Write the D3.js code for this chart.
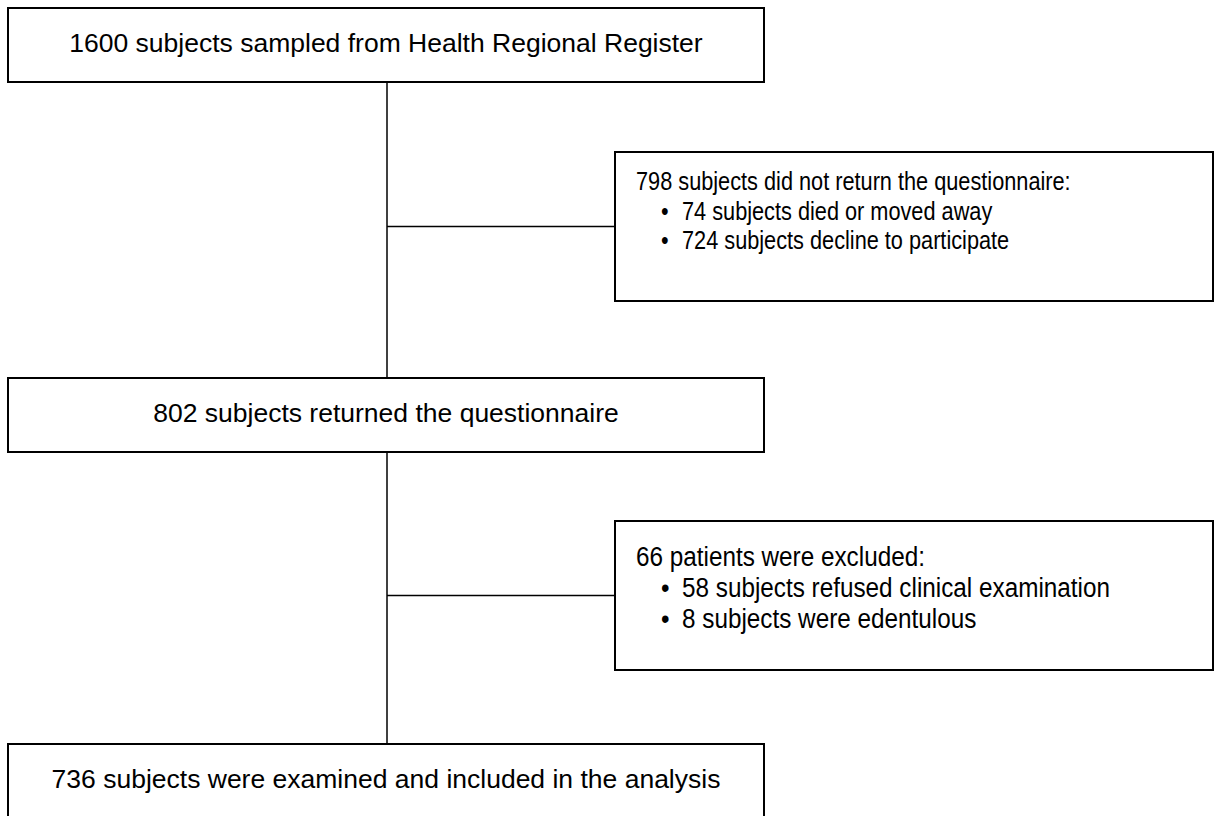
<!DOCTYPE html>
<html>
<head>
<meta charset="utf-8">
<script src="https://cdn.jsdelivr.net/npm/d3@7"></script>
<style>
  html, body { margin: 0; padding: 0; background: #fff; }
  svg { display: block; }
  text { font-family: "Liberation Sans", Arial, Helvetica, sans-serif; fill: #000; }
</style>
</head>
<body>
<svg id="chart" width="1215" height="816"></svg>
<script>
// ---- data ----
const mainCounts = [1600, 802, 736];
const mainLabels = [
  "subjects sampled from Health Regional Register",
  "subjects returned the questionnaire",
  "subjects were examined and included in the analysis"
];
const exclusionCounts = [798, 66];
const exclusionHeaders = [
  "subjects did not return the questionnaire:",
  "patients were excluded:"
];
const exclusionItemCounts = [[74, 724], [58, 8]];
const exclusionItemLabels = [
  ["subjects died or moved away", "subjects decline to participate"],
  ["subjects refused clinical examination", "subjects were edentulous"]
];

// ---- layout ----
const svg = d3.select("#chart");

const mainBox = { x0: 8, x1: 764, h: 74 };
const mainY = d3.scaleOrdinal().domain([0, 1, 2]).range([8, 378, 744]);
const sideBox = { x0: 615, x1: 1213, h: 149 };
const sideY = d3.scaleOrdinal().domain([0, 1]).range([152, 521]);
const spineX = (mainBox.x0 + mainBox.x1) / 2 + 1;

const g = svg.append("g");

g.append("line")
  .attr("x1", spineX).attr("x2", spineX)
  .attr("y1", mainY(0) + mainBox.h).attr("y2", mainY(2))
  .attr("stroke", "#000").attr("stroke-width", 1.5);

exclusionCounts.forEach((c, i) => {
  const cy = sideY(i) + sideBox.h / 2;
  g.append("line")
    .attr("x1", spineX).attr("x2", sideBox.x0)
    .attr("y1", cy).attr("y2", cy)
    .attr("stroke", "#000").attr("stroke-width", 1.5);
});

const mains = g.selectAll("g.main").data(mainCounts.map((c, i) => ({ c, label: mainLabels[i], i })))
  .join("g").attr("class", "main");
mains.append("rect")
  .attr("x", mainBox.x0).attr("y", d => mainY(d.i))
  .attr("width", mainBox.x1 - mainBox.x0).attr("height", mainBox.h)
  .attr("fill", "#fff").attr("stroke", "#000").attr("stroke-width", 2);
mains.append("text")
  .attr("x", (mainBox.x0 + mainBox.x1) / 2)
  .attr("y", d => mainY(d.i) + 44)
  .attr("text-anchor", "middle")
  .attr("font-size", 26.5)
  .text(d => `${d.c} ${d.label}`);

const sides = g.selectAll("g.side").data(exclusionCounts.map((c, i) => ({ c, i })))
  .join("g").attr("class", "side");
sides.append("rect")
  .attr("x", sideBox.x0).attr("y", d => sideY(d.i))
  .attr("width", sideBox.x1 - sideBox.x0).attr("height", sideBox.h)
  .attr("fill", "#fff").attr("stroke", "#000").attr("stroke-width", 2);

const sideStyle = [
  { fs: 26.5, sx: 0.82, base: 38, gap: 29.5, bx: 661, tx: 682 },
  { fs: 27, sx: 0.9, base: 44.5, gap: 31, bx: 661, tx: 682 }
];
sides.each(function(d) {
  const s = d3.select(this);
  const st = sideStyle[d.i];
  const base = sideY(d.i) + st.base;
  s.append("text")
    .attr("transform", `translate(636,${base}) scale(${st.sx},1)`)
    .attr("font-size", st.fs)
    .text(`${d.c} ${exclusionHeaders[d.i]}`);
  exclusionItemCounts[d.i].forEach((n, k) => {
    const y = base + st.gap * (k + 1);
    s.append("text")
      .attr("transform", `translate(${st.bx},${y}) scale(${st.sx},1)`)
      .attr("font-size", st.fs)
      .text("\u2022");
    s.append("text")
      .attr("transform", `translate(${st.tx},${y}) scale(${st.sx},1)`)
      .attr("font-size", st.fs)
      .text(`${n} ${exclusionItemLabels[d.i][k]}`);
  });
});
</script>
</body>
</html>
